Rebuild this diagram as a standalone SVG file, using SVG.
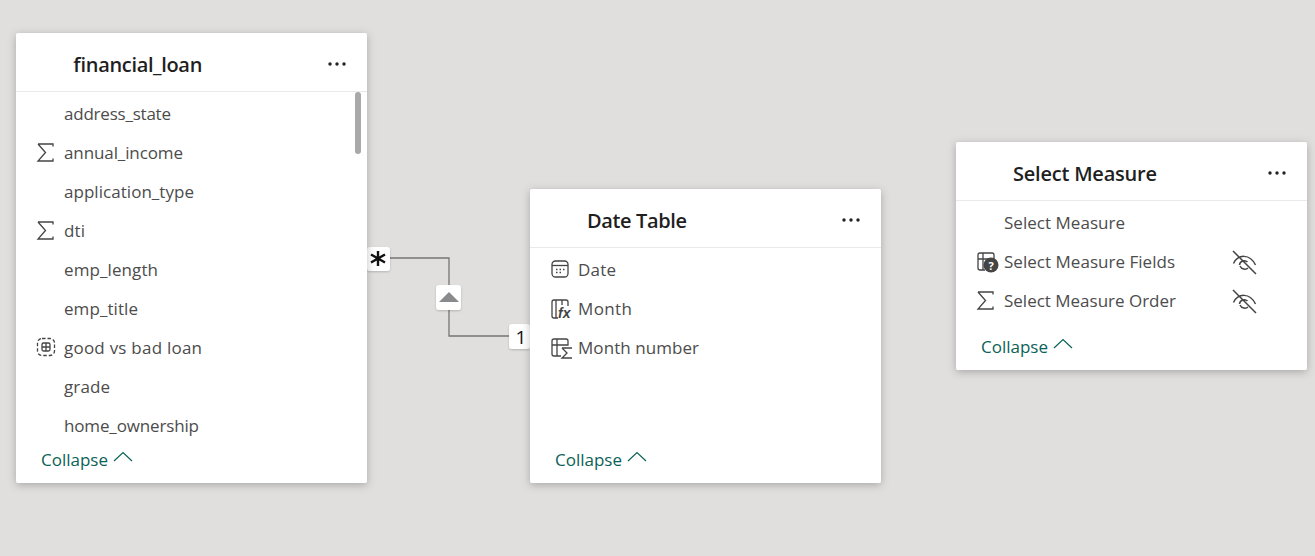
<svg xmlns="http://www.w3.org/2000/svg" width="1315" height="556" viewBox="0 0 1315 556">
<defs>
<filter id="sh" x="-10%" y="-10%" width="120%" height="120%"><feDropShadow dx="0" dy="2" stdDeviation="4" flood-color="#000" flood-opacity="0.25"/></filter>
<filter id="sh2" x="-30%" y="-30%" width="160%" height="160%"><feDropShadow dx="0" dy="1" stdDeviation="1" flood-color="#000" flood-opacity="0.2"/></filter>
<g id="sigma"><path d="M1 1H16V3.5M1 1L8.5 9.5L1 18H16V15.500" fill="none" stroke="#444" stroke-width="1.300"/></g>
<g id="eye"><path d="M1.500 13.500C6 4 18 3.500 23.500 15M7.500 15A4.800 4.800 0 0 1 15.500 12M16 18C14 20 9.500 19.500 8 16M1 1L24 24" fill="none" stroke="#444" stroke-width="1.500"/></g>
<g id="dots"><circle cx="2" cy="2" r="1.700"/><circle cx="9" cy="2" r="1.700"/><circle cx="16" cy="2" r="1.700"/></g>
<path id="chev" d="M0 9L9 0.500L18 9" fill="none" stroke="#0b6257" stroke-width="1.200"/>
</defs>
<style>
.card{fill:#fff;filter:url(#sh)}
.title{font:600 20px "Open Sans","Noto Sans",sans-serif;fill:#1f1f1f}
.f{font:17px "Open Sans","Noto Sans",sans-serif;fill:#4c4c4c}
.c{font:17px "Open Sans","Noto Sans",sans-serif;fill:#0b6257}
.sep{stroke:#e9e9e9;stroke-width:1}
.ic{fill:none;stroke:#444;stroke-width:1.300}
.badge{fill:#fff;filter:url(#sh2)}
</style>
<rect width="1315" height="556" fill="#e0dfdd"/>
<g id="connectors">
<path d="M389 258H449V336H510" fill="none" stroke="#757575" stroke-width="1.300"/>
<rect class="badge" x="367" y="247" width="23" height="24" rx="3"/>
<path d="M378 251V266M371 254.500L385 262.500M385 254.500L371 262.500" stroke="#111" stroke-width="2.400" fill="none"/>
<rect class="badge" x="436" y="285" width="25" height="25" rx="3"/>
<path d="M439 302L449 292L459 302Z" fill="#8a8a8a"/>
<rect class="badge" x="509" y="324" width="21" height="25" rx="3"/>
<text x="521" y="344" font-family="'Open Sans','Noto Sans',sans-serif" font-size="19" fill="#111" text-anchor="middle">1</text>
</g>
<g id="financial_loan">
<rect class="card" x="16" y="33" width="351" height="450" rx="2"/>
<text class="title" x="73" y="72" textLength="129">financial_loan</text>
<use href="#dots" x="328" y="62" fill="#222"/>
<line class="sep" x1="16" y1="91.500" x2="367" y2="91.500"/>
<rect x="355" y="92" width="6" height="62" rx="3" fill="#a9a9a9"/>
<text class="f" x="64" y="120" textLength="107">address_state</text>
<use href="#sigma" x="37" y="143"/>
<text class="f" x="64" y="159" textLength="119">annual_income</text>
<text class="f" x="64" y="198" textLength="130">application_type</text>
<use href="#sigma" x="37" y="221"/>
<text class="f" x="64" y="237" textLength="21">dti</text>
<text class="f" x="64" y="276" textLength="94">emp_length</text>
<text class="f" x="64" y="315" textLength="74">emp_title</text>
<g class="ic"><rect x="37.500" y="338.500" width="17" height="17" rx="4.500" stroke-dasharray="3.500 2"/><rect x="42" y="343" width="8" height="8" rx="1.500"/><path d="M46 343V351M42 347H50"/></g>
<text class="f" x="64" y="354" textLength="138">good vs bad loan</text>
<text class="f" x="64" y="393" textLength="46">grade</text>
<text class="f" x="64" y="432" textLength="135">home_ownership</text>
<text class="c" x="41" y="466" textLength="67">Collapse</text>
<use href="#chev" x="114" y="452"/>
</g>
<g id="date_table">
<rect class="card" x="530" y="189" width="351" height="294" rx="2"/>
<text class="title" x="587" y="228" textLength="100">Date Table</text>
<use href="#dots" x="842" y="218" fill="#222"/>
<line class="sep" x1="530" y1="247.500" x2="881" y2="247.500"/>
<g class="ic"><rect x="552" y="261" width="16" height="16" rx="3.500"/><path d="M552 265.500H568"/><path d="M556 269.500h1.500M559.500 269.500h1.500M563 269.500h1.500M556 272.500h1.500M559.500 272.500h1.500" stroke-width="1.500"/></g>
<text class="f" x="578" y="276" textLength="38">Date</text>
<g class="ic"><path d="M558 318H554Q552 318 552 316V302Q552 300 554 300H566Q568 300 568 302V306M556 300V318M562 300V305"/></g>
<text x="558" y="318" font-family="'Liberation Sans',sans-serif" font-style="italic" font-weight="700" font-size="14" fill="#444">fx</text>
<text class="f" x="578" y="315" textLength="54">Month</text>
<g class="ic"><path d="M561 356H554Q552 356 552 354V341Q552 339 554 339H566Q568 339 568 341V345H552M557 339V356"/><path d="M562 348H572M562 348L567 353L562 358H572"/></g>
<text class="f" x="578" y="354" textLength="121">Month number</text>
<text class="c" x="555" y="466" textLength="67">Collapse</text>
<use href="#chev" x="628" y="452"/>
</g>
<g id="select_measure">
<rect class="card" x="956" y="142" width="351" height="228" rx="2"/>
<text class="title" x="1013" y="181" textLength="144">Select Measure</text>
<use href="#dots" x="1268" y="171" fill="#222"/>
<line class="sep" x1="956" y1="200.500" x2="1307" y2="200.500"/>
<text class="f" x="1004" y="229" textLength="121">Select Measure</text>
<g class="ic"><path d="M985 270H980Q978 270 978 268V255Q978 253 980 253H992Q994 253 994 255V259H978M983 253V270"/></g>
<circle cx="991" cy="265" r="7.500" fill="#444"/>
<text x="991" y="269.500" font-family="'Open Sans',sans-serif" font-weight="700" font-size="11" fill="#fff" text-anchor="middle">?</text>
<text class="f" x="1004" y="268" textLength="171">Select Measure Fields</text>
<use href="#eye" x="1232" y="250"/>
<use href="#sigma" x="977" y="291"/>
<text class="f" x="1004" y="307" textLength="172">Select Measure Order</text>
<use href="#eye" x="1232" y="289"/>
<text class="c" x="981" y="353" textLength="67">Collapse</text>
<use href="#chev" x="1054" y="339"/>
</g>
</svg>
